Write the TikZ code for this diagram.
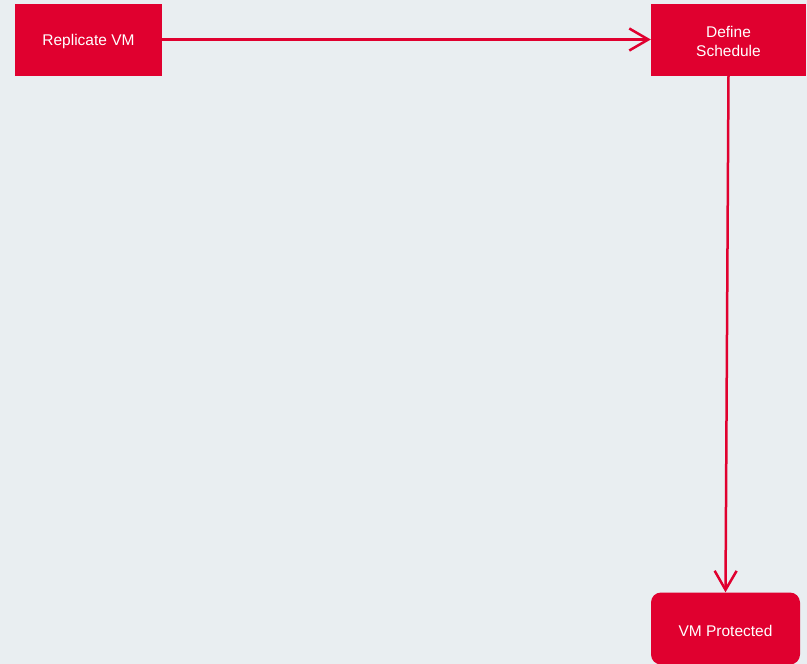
\documentclass[tikz,border=0pt]{standalone}
\usepackage{fontspec}
\setmainfont{Liberation Sans}
\usetikzlibrary{arrows.meta}
\definecolor{bg}{HTML}{E9EEF1}
\definecolor{vmred}{HTML}{E0002F}
\newcommand{\lowr}[1]{\raisebox{-2pt}[\height][\depth]{#1}}
\tikzset{
  box/.style={fill=vmred, draw=none, text=white, align=center, inner sep=0pt,
    font=\fontsize{15.5}{19}\selectfont},
  link/.style={draw=vmred, line width=2.5pt, -{Straight Barb[length=19pt,width=22pt,line width=2.5pt]}}
}
\begin{document}
\begin{tikzpicture}[x=1pt,y=-1pt]
\fill[bg] (0,0) rectangle (807,664);
\useasboundingbox (0,0) rectangle (807,664);
\node[box, minimum width=147pt, minimum height=72pt] (rep) at (88.5,39.5) {\lowr{Replicate VM}};
\node[box, minimum width=155pt, minimum height=72pt] (def) at (728.5,39.5) {\lowr{Define}\\\lowr{Schedule}};
\node[box, rounded corners=10pt, minimum width=149pt, minimum height=72pt] (prot) at (725.5,628.5) {\lowr{VM Protected}};
\draw[link] (rep.east) -- (def.west);
\draw[link] (def.south) -- (prot.north);
\end{tikzpicture}
\end{document}
